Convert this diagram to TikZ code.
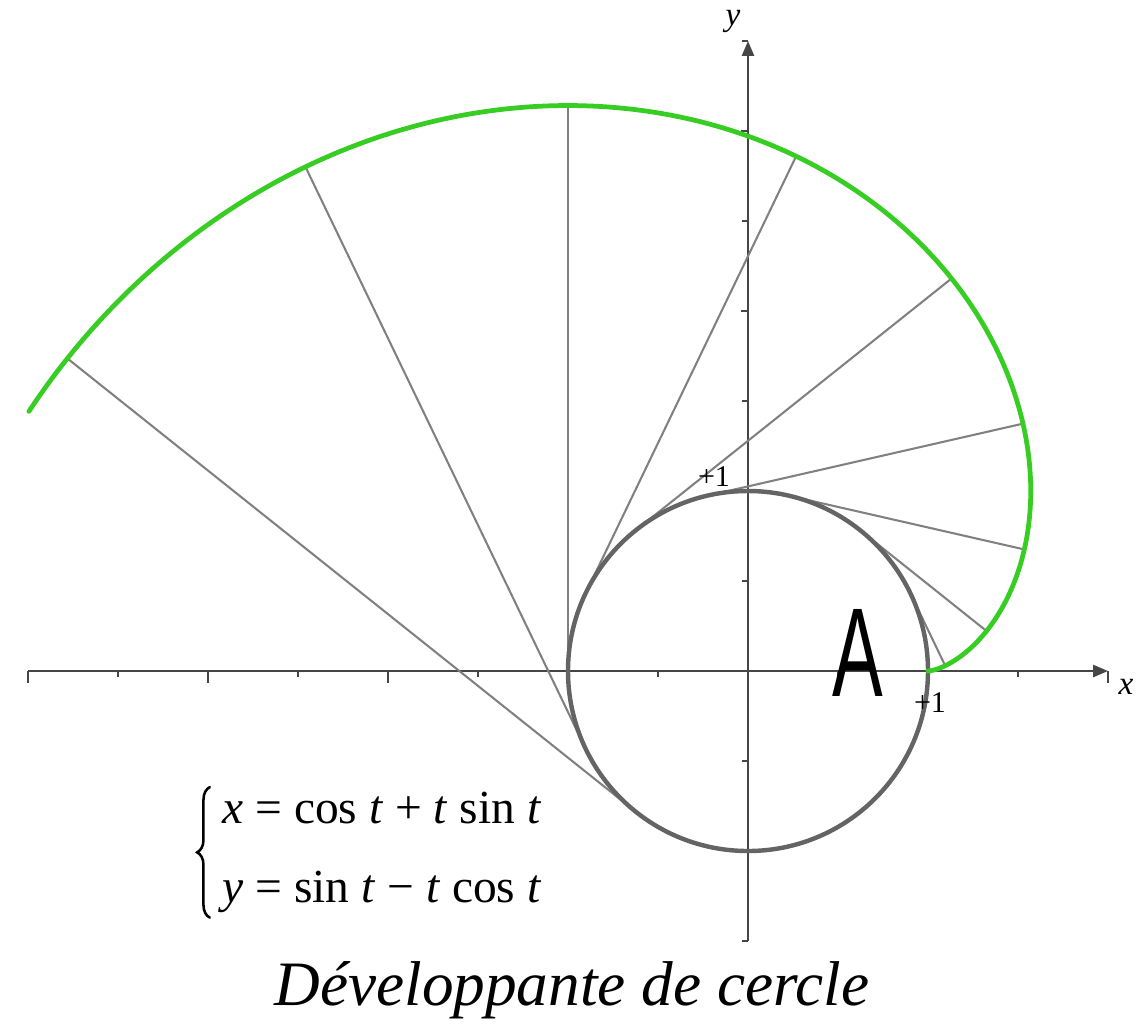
\documentclass[tikz,border=0pt]{standalone}
\usepackage{fontspec}
\usepackage{graphicx}
\setmainfont{Liberation Serif}
\newfontfamily\handfont{Liberation Sans}
\usetikzlibrary{arrows.meta,decorations.pathreplacing}
\definecolor{invgreen}{RGB}{55,205,35}
\definecolor{circgray}{RGB}{100,100,100}
\definecolor{linegray}{RGB}{128,128,128}
\definecolor{axisgray}{RGB}{70,70,70}
\begin{document}
\begin{tikzpicture}[x=2cm,y=2cm,
  axis/.style={draw=axisgray,line width=0.7pt},
  tick/.style={draw=axisgray,line width=0.7pt},
  tangent/.style={draw=linegray,line width=0.65pt},
  circ/.style={draw=circgray,line width=1.4pt},
  invol/.style={draw=invgreen,line width=1.5pt},
  lbl/.style={inner sep=0pt,font=\fontsize{9.5}{11}\selectfont},
  axlbl/.style={inner sep=0pt,font=\fontsize{10.5}{12}\selectfont\itshape}]
\useasboundingbox (-4.1556,-1.9778) rectangle (2.1833,3.7278);
\coordinate (O) at (0,0);
% axes
\coordinate (xs) at (-4,0);
\coordinate (xe) at (2,0);
\coordinate (ys) at (0,-1.5);
\coordinate (ye) at (0,3.5);
\foreach \i in {-4,...,2} \draw[tick] (\i,0) -- ++(0,-0.067);
\foreach \i in {-3.5,-2.5,...,1.5} \draw[tick] (\i,0) -- ++(0,-0.033);
\foreach \j in {-1,...,3} \draw[tick] (0,\j) -- ++(-0.04,0);
\foreach \j in {-1.5,-0.5,...,3.5} \draw[tick] (0,\j) -- ++(-0.033,0);
\draw[axis,-{Triangle[length=4.7pt,width=3.8pt]}] (xs) -- (xe);
\draw[axis,-{Triangle[length=4.7pt,width=3.8pt]}] (ys) -- (ye);
\node[axlbl] (xl) at (2.1,-0.089) {x};
\node[axlbl] (yl) at (-0.083,3.606) {y};
% tangent lines
\foreach \k in {1,...,9} {
  \pgfmathsetmacro\tv{\k*pi/7}
  \coordinate (c\k) at ({cos(\tv r)},{sin(\tv r)});
  \coordinate (p\k) at ({cos(\tv r)+\tv*sin(\tv r)},{sin(\tv r)-\tv*cos(\tv r)});
  \draw[tangent] (c\k) -- (p\k);
}
% circle
\draw[circ] (O) circle[radius=1];
% involute
\draw[invol,line cap=round] plot[domain=0:4.129,samples=240,smooth,variable=\t]
  ({cos(\t r)+\t*sin(\t r)},{sin(\t r)-\t*cos(\t r)});
% labels
\node[lbl] (one x) at (1.011,-0.178) {+1};
\node[lbl] (one y) at (-0.189,1.078) {+1};
\node[inner sep=0pt] (A) at (0.611,0.1) {\handfont\fontsize{40}{40}\selectfont\scalebox{0.6}[1]{A}};
% system of equations
\node[inner sep=0pt,anchor=west] (sys) at (-2.922,-1.005)
  {\fontsize{15}{18}\selectfont\begin{tabular}{@{}l@{}}\textit{x} = cos \textit{t} + \textit{t} sin \textit{t}\\[7pt]\textit{y} = sin \textit{t} − \textit{t} cos \textit{t}\end{tabular}};
\coordinate (bb) at (-2.99,-1.37);
\coordinate (bt) at (-2.99,-0.645);
\draw[black,line width=0.8pt,line cap=round,decorate,decoration={brace,amplitude=4pt}] (bb) -- (bt);
\node[inner sep=0pt] (title) at (-0.978,-1.775) {\fontsize{20}{24}\selectfont\itshape Développante de cercle};
\end{tikzpicture}
\end{document}
